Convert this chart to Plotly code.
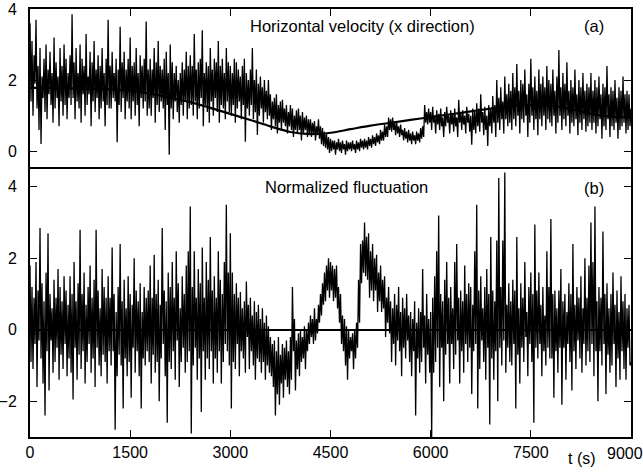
import plotly.graph_objects as go

# ---------------- data ----------------
# Each 30 s window is read as an upper and a lower excursion of the trace:
# upper value at the start of the window (t = 30k), lower value half a window later (t = 30k + 15).
dt = 30

# (a) horizontal velocity, x direction
velocity_hi = [
    3.6, 3.1, 2.7, 3.7, 2.4, 2.9, 2.1, 2.6, 3.0, 2.3, 2.8, 2.2, 3.2, 2.5, 2.1, 2.9, 2.4, 3.0, 2.6, 2.2,
    2.7, 3.85, 2.5, 2.9, 2.2, 3.0, 2.6, 2.4, 3.3, 2.1, 2.8, 2.5, 3.1, 2.3, 2.7, 2.4, 2.9, 2.2, 2.6, 3.7,
    2.4, 2.8, 2.2, 2.6, 2.3, 3.5, 2.5, 2.8, 2.3, 2.6, 3.2, 2.4, 2.5, 2.9, 2.2, 2.7, 2.4, 2.6, 3.65, 2.3,
    2.6, 2.3, 2.9, 2.5, 3.1, 2.4, 2.3, 2.6, 2.8, 2.2, 3.0, 2.5, 2.2, 2.4, 2.0, 2.2, 2.5, 2.3, 2.8, 2.4,
    2.7, 2.4, 3.3, 2.3, 2.5, 2.6, 3.4, 2.2, 2.5, 2.4, 2.9, 2.3, 2.6, 2.5, 3.1, 2.4, 2.6, 2.2, 2.9, 2.5,
    2.4, 2.2, 2.6, 2.5, 2.3, 2.1, 2.4, 2.6, 2.2, 2.0, 2.3, 2.9, 2.0, 2.3, 1.9, 2.1, 1.8, 2.0, 1.7, 2.0,
    1.6, 1.4, 1.5, 1.6, 1.3, 1.4, 1.45, 1.2, 1.3, 1.1, 1.3, 1.2, 1.0, 1.15, 1.2, 1.0, 1.1, 0.95, 1.0, 0.9,
    0.9, 0.8, 0.85, 0.7, 0.9, 0.7, 0.65, 0.55, 0.5, 0.4, 0.35, 0.3, 0.3, 0.25, 0.35, 0.25, 0.3, 0.2, 0.3, 0.25,
    0.25, 0.3, 0.2, 0.3, 0.25, 0.35, 0.3, 0.35, 0.3, 0.4, 0.35, 0.45, 0.4, 0.5, 0.45, 0.6, 0.55, 0.75, 0.7, 0.95,
    0.9, 0.95, 0.8, 0.85, 0.7, 0.75, 0.6, 0.65, 0.55, 0.6, 0.5, 0.55, 0.45, 0.55, 0.5, 0.65, 0.7, 1.3, 1.1, 1.2,
    1.1, 1.25, 1.0, 1.15, 1.05, 1.2, 0.95, 1.1, 1.25, 1.0, 1.15, 1.05, 1.2, 0.95, 1.45, 1.1, 1.15, 1.0, 1.25, 1.05,
    1.0, 1.2, 1.1, 1.35, 1.2, 1.6, 1.1, 1.25, 1.0, 1.3, 1.2, 1.55, 1.3, 2.0, 1.5, 1.8, 1.4, 2.1, 1.6, 1.9,
    1.7, 2.2, 1.8, 2.45, 1.7, 2.0, 1.9, 2.3, 1.6, 1.9, 2.6, 1.8, 2.1, 1.7, 2.3, 1.9, 2.1, 1.8, 2.4, 2.0,
    1.9, 2.3, 1.7, 2.1, 2.85, 1.8, 2.2, 1.9, 2.5, 1.7, 2.0, 1.8, 2.3, 1.6, 2.0, 1.8, 2.2, 1.7, 1.9, 1.8,
    2.2, 1.7, 2.0, 1.8, 2.1, 1.6, 1.9, 1.8, 2.4, 1.6, 1.8, 1.7, 2.0, 1.5, 1.8, 1.7, 2.1, 1.6, 1.7, 1.6,
]
velocity_lo = [
    1.4, 1.0, 1.9, 1.2, 0.6, 0.2, 1.5, 1.1, 0.9, 1.6, 1.3, 0.8, 1.2, 1.5, 0.7, 1.4, 1.0, 1.3, 0.9, 1.5,
    1.3, 1.5, 0.9, 1.4, 1.2, 0.8, 1.6, 1.0, 1.3, 1.6, 0.7, 1.4, 1.1, 1.5, 0.9, 1.2, 1.4, 0.7, 1.3, 1.2,
    1.2, 1.5, 1.4, 0.25, 1.3, 1.1, 1.5, 0.9, 1.4, 1.2, 0.9, 1.4, 1.0, 1.3, 0.7, 1.5, 1.2, 1.4, 1.0, 1.2,
    1.0, 1.5, 0.8, 1.3, 1.1, 1.4, 1.2, 0.6, 1.3, -0.1, 1.2, 0.9, 1.4, 1.1, 0.8, 1.3, 1.0, 1.4, 0.9, 1.2,
    1.3, 1.0, 1.4, 0.9, 1.2, 1.5, 0.7, 1.3, 1.1, 0.8, 1.4, 1.0, 1.5, 1.1, 0.8, 1.3, 1.2, 0.9, 1.4, 1.1,
    1.0, 1.3, 0.8, 1.2, 1.4, 0.9, 1.3, 0.27, 1.2, 1.0, 1.3, 0.9, 1.1, 0.46, 1.0, 1.2, 0.8, 1.1, 0.9, 1.0,
    0.6, 0.9, 0.7, 0.5, 0.8, 0.6, 0.8, 0.7, 0.5, 0.7, 0.6, 0.4, 0.6, 0.5, 0.6, 0.3, 0.5, 0.6, 0.4, 0.5,
    0.4, 0.5, 0.3, 0.45, 0.35, 0.2, 0.15, 0.1, 0.05, -0.05, 0.0, 0.05, -0.1, 0.05, 0.0, -0.05, 0.05, -0.1, 0.0, 0.05,
    0.0, 0.05, -0.05, 0.05, 0.0, 0.1, 0.05, 0.1, 0.05, 0.15, 0.1, 0.2, 0.15, 0.25, 0.2, 0.3, 0.3, 0.4, 0.4, 0.6,
    0.55, 0.6, 0.45, 0.5, 0.4, 0.45, 0.3, 0.35, 0.25, 0.3, 0.2, 0.3, 0.2, 0.3, 0.25, 0.35, 0.4, 0.8, 0.75, 0.8,
    0.6, 0.8, 0.5, 0.75, 0.6, 0.7, 0.4, 0.7, 0.8, 0.5, 0.75, 0.55, 0.7, 0.4, 0.8, 0.6, 0.75, 0.5, 0.8, 0.55,
    0.18, 0.6, 0.5, 0.7, 0.55, 0.8, 0.45, 0.6, 0.15, 0.7, 0.5, 0.8, 0.4, 0.8, 0.6, 0.9, 0.5, 0.9, 0.7, 0.8,
    0.6, 0.9, 0.7, 1.0, 0.5, 0.9, 0.8, 1.0, 0.4, 0.8, 1.0, 0.6, 0.9, 0.45, 0.9, 0.7, 1.0, 0.6, 0.9, 0.8,
    0.7, 1.0, 0.5, 0.8, 1.0, 0.6, 0.9, 0.7, 1.0, 0.5, 0.8, 0.7, 0.9, 0.45, 0.8, 0.6, 0.9, 0.55, 0.7, 0.8,
    0.6, 0.8, 0.5, 0.7, 0.9, 0.35, 0.7, 0.6, 0.9, 0.4, 0.7, 0.6, 0.8, 0.35, 0.6, 0.7, 0.8, 0.5, 0.6, 0.7,
]
velocity_end = 1.2  # reading at t = 9000

# (a) smooth mean curve
trend_t = [0, 300, 600, 900, 1200, 1500, 1800, 2100, 2400, 2700, 3000, 3300, 3600, 3900, 4200, 4500,
           4800, 5100, 5400, 5700, 6000, 6300, 6600, 6900, 7200, 7500, 7800, 8100, 8400, 8700, 9000]
trend_v = [1.78, 1.78, 1.77, 1.76, 1.74, 1.70, 1.62, 1.50, 1.38, 1.22, 1.05, 0.88, 0.70, 0.54, 0.48, 0.52,
           0.62, 0.72, 0.80, 0.88, 0.96, 1.04, 1.12, 1.20, 1.27, 1.30, 1.28, 1.18, 1.05, 0.97, 0.95]

# (b) normalized fluctuation
fluct_hi = [
    1.8, 1.2, 0.9, 1.9, 1.1, 2.85, 1.3, 0.8, 1.6, 2.7, 1.0, 0.6, 1.4, 0.9, 1.7, 1.2, 0.8, 1.5, 1.1, 0.7,
    1.5, 1.0, 1.9, 0.8, 1.3, 2.8, 1.0, 1.6, 0.7, 1.2, 1.8, 0.9, 1.4, 2.8, 1.1, 0.6, 1.7, 1.2, 0.9, 1.5,
    0.9, 2.3, 1.0, 0.5, 1.2, 2.4, 0.8, 1.4, 0.6, 1.5, 1.0, 0.7, 2.0, 1.1, 0.8, 1.3, 0.5, 1.2, 0.9, 1.1,
    1.8, 0.9, 2.1, 1.0, 1.4, 0.7, 2.85, 1.1, 0.8, 1.6, 1.2, 1.9, 0.9, 2.2, 1.3, 0.6, 1.5, 1.0, 1.8, 2.2,
    3.45, 1.2, 2.2, 0.9, 1.7, 1.3, 2.3, 0.9, 1.9, 1.4, 2.6, 1.1, 1.5, 0.9, 2.2, 1.4, 1.0, 1.9, 3.5, 1.6,
    2.7, 1.6, 1.0, 1.3, 0.9, 1.06, 0.6, 0.8, 1.35, 0.7, 0.9, 0.4, 0.8, 0.5, 0.7, 0.3, 0.6, 0.2, 0.4, 0.1,
    -0.2, -0.4, -0.3, -0.6, -0.2, -0.7, -0.4, -0.5, -0.3, -0.6, -0.2, 1.2, 0.3, -0.3, -0.1, 0.0, -0.2, 0.1, 0.0, 0.2,
    0.4, 0.3, 0.6, 0.3, 0.7, 1.0, 1.3, 1.6, 1.8, 2.0, 1.9, 1.8, 1.7, 1.8, 1.2, 1.0, 0.4, 0.3, 0.1, 0.0,
    -0.2, -0.1, 0.0, 0.2, 1.4, 2.4, 2.5, 3.0, 2.6, 2.7, 2.2, 2.4, 2.0, 2.1, 1.6, 1.8, 1.4, 1.5, 0.9, 1.2,
    0.8, 0.6, 1.0, 0.7, 1.2, 0.5, 0.9, 0.6, 1.0, 0.4, 0.5, 0.3, 0.8, 0.2, 0.6, 0.5, 1.7, 0.4, 1.0, 0.3,
    0.5, 0.9, 1.5, 2.2, 3.2, 1.0, 0.8, 1.4, 1.9, 0.9, 1.2, 0.6, 1.9, 2.4, 0.9, 1.1, 0.8, 1.8, 1.0, 1.3,
    1.2, 0.7, 2.2, 3.5, 1.1, 1.5, 0.6, 1.2, 1.7, 1.0, 2.6, 1.1, 0.8, 2.5, 4.25, 1.2, 2.5, 4.4, 0.7, 1.3,
    0.8, 1.4, 1.1, 2.6, 0.6, 1.3, 0.9, 1.9, 0.5, 1.2, 1.6, 1.0, 2.95, 1.1, 1.6, 0.7, 1.2, 0.4, 2.2, 1.2,
    3.1, 1.0, 1.1, 0.6, 1.1, 1.7, 0.8, 1.0, 0.5, 1.3, 1.0, 2.4, 0.7, 1.2, 0.9, 1.5, 0.6, 2.0, 0.9, 1.8,
    3.0, 1.9, 3.45, 0.8, 1.2, 0.9, 2.75, 1.0, 1.3, 0.6, 1.0, 1.6, 0.7, 1.1, 0.5, 1.5, 0.8, 1.0, 0.6, 0.7,
]
fluct_lo = [
    -0.9, -1.1, -0.4, -1.6, -0.3, -0.8, -1.5, -2.4, -0.6, -1.7, -0.3, -1.2, -0.9, -0.5, -1.4, -0.7, -1.1, -0.4, -1.3, -0.8,
    -1.2, -1.95, -0.5, -1.4, -0.7, -1.1, -0.6, -1.5, -0.9, -0.4, -1.2, -0.8, -1.6, -0.5, -1.0, -1.3, -0.7, -0.9, -1.5, -0.6,
    -1.0, -0.6, -2.8, -1.3, -0.7, -1.0, -2.2, -0.8, -1.3, -0.9, -1.9, -0.5, -1.2, -0.6, -1.3, -2.2, -0.8, -1.0, -0.6, -0.9,
    -1.5, -0.7, -1.2, -0.9, -2.0, -0.8, -0.4, -1.3, -2.6, -0.9, -1.1, -0.6, -1.4, -0.3, -1.6, -0.9, -0.5, -1.2, -0.9, -0.6,
    -2.9, -1.0, -0.5, -1.4, -0.8, -2.3, -0.6, -1.4, -0.8, -1.1, -0.6, -1.5, -0.8, -1.2, -0.6, -1.5, -0.9, -0.4, -0.6, -1.0,
    -2.2, -0.9, -1.1, -0.4, -1.3, -0.6, -0.8, -1.2, -0.2, -1.1, -0.6, -1.0, -1.4, -0.8, -0.9, -1.2, -0.9, -1.4, -1.0, -1.2,
    -1.3, -1.6, -2.4, -1.8, -2.1, -1.5, -1.9, -1.4, -1.6, -1.8, -1.4, -0.6, -1.7, -1.1, -1.3, -0.9, -0.8, -1.1, -0.6, -0.4,
    -0.2, -0.4, -0.3, -0.1, 0.2, 0.4, 0.7, 0.8, 1.1, 0.9, 1.1, 0.8, 0.9, 0.6, 0.2, -0.4, -0.6, -1.0, -1.4, -0.8,
    -0.6, -1.1, -0.8, -0.5, 0.2, 1.3, 1.6, 1.5, 1.4, 0.9, 1.1, 0.8, 1.1, 0.5, 0.8, 0.5, 0.6, -0.2, 0.2, -0.1,
    -0.9, -0.4, -1.0, -0.3, -0.6, -1.3, -0.5, -0.8, -0.3, -0.9, -1.3, -0.6, -2.4, -0.8, -1.2, -0.9, -0.5, -1.5, -0.7, -1.2,
    -3.0, -1.2, -0.9, -0.5, -1.6, -0.5, -2.0, -0.7, -0.4, -1.5, -0.4, -1.1, -0.7, -0.3, -1.5, -0.6, -1.2, -0.4, -0.9, -0.5,
    -1.8, -0.6, -0.4, -2.2, -1.1, -0.3, -0.9, -1.4, -0.5, -2.65, -0.8, -1.4, -0.6, -2.0, -0.5, -1.0, -0.3, -1.2, -0.5, -0.9,
    -1.0, -0.4, -2.2, -0.7, -1.5, -0.5, -0.9, -0.2, -1.3, -0.4, -0.9, -2.6, -0.5, -0.8, -0.4, -1.3, -0.6, -1.0, -0.5, -0.8,
    -0.8, -1.9, -0.6, -1.2, -0.5, -2.1, -0.5, -1.4, -0.4, -0.9, -1.7, -0.6, -1.1, -0.3, -0.8, -1.2, -0.4, -1.0, -0.6, -0.9,
    -0.4, -1.3, -0.6, -2.0, -0.6, -1.0, -0.4, -1.8, -0.7, -1.2, -1.0, -0.4, -1.6, -0.8, -1.4, -0.6, -1.1, -1.4, -0.5, -1.0,
]
fluct_end = -0.9  # reading at t = 9000

x_ticks = [0, 1500, 3000, 4500, 6000, 7500, 9000]
x_tick_text = ["0", "1500", "3000", "4500", "6000", "7500", "9000"]
ya_ticks = [0, 2, 4]
yb_ticks = [-2, 0, 2, 4]


def merge(hi, lo, end):
    """Put the upper and lower readings of each window in time order."""
    ts, vs = [], []
    for k in range(len(hi)):
        ts += [k * dt, k * dt + dt / 2]
        vs += [hi[k], lo[k]]
    ts.append(len(hi) * dt)
    vs.append(end)
    return ts, vs


t_vel, v_all = merge(velocity_hi, velocity_lo, velocity_end)
t_fl, f_all = merge(fluct_hi, fluct_lo, fluct_end)

# ---------------- figure ----------------
FONT = "Liberation Sans, Arial, Helvetica, sans-serif"
fig = go.Figure()
fig.add_trace(go.Scatter(x=t_vel, y=v_all, xaxis="x2", yaxis="y2", mode="lines",
                         line=dict(color="black", width=1.3)))
fig.add_trace(go.Scatter(x=trend_t, y=trend_v, xaxis="x2", yaxis="y2", mode="lines",
                         line=dict(color="black", width=2.2, shape="spline")))
fig.add_trace(go.Scatter(x=t_fl, y=f_all, xaxis="x", yaxis="y", mode="lines",
                         line=dict(color="black", width=1.3)))

ax_common = dict(showgrid=False, showline=True, linecolor="black", linewidth=2,
                 ticks="inside", ticklen=7, tickcolor="black", tickwidth=1, automargin=False,
                 tickfont=dict(family=FONT, size=16, color="black"))
split = 268 / 428

# last x label is drawn as a text nudged left (as in the source figure)
bottom_text = x_tick_text[:-1] + [""]


def label(text, x, y, size=16.5, xref="paper", xshift=0):
    return dict(text=text, x=x, y=y, xref=xref, yref="paper", xshift=xshift,
                xanchor="center", yanchor="middle", showarrow=False,
                font=dict(family=FONT, size=size, color="black"))


fig.update_layout(
    width=643, height=472,
    margin=dict(l=30, r=12, t=9, b=35),
    paper_bgcolor="white", plot_bgcolor="white",
    showlegend=False,
    xaxis=dict(range=[0, 9000], anchor="y", tickvals=x_ticks, ticktext=bottom_text, mirror=True,
               zeroline=False, **ax_common),
    xaxis2=dict(range=[0, 9000], anchor="y2", tickvals=x_ticks, side="top",
                showticklabels=False, mirror=False, zeroline=False, **ax_common),
    yaxis=dict(domain=[0, split], range=[-3, 4.5], tickvals=yb_ticks, mirror="ticks",
               ticklabelstandoff=8,
               zeroline=True, zerolinecolor="black", zerolinewidth=1.5, **ax_common),
    yaxis2=dict(domain=[split, 1], range=[-0.5, 4], tickvals=ya_ticks, mirror="ticks",
                ticklabelstandoff=8, zeroline=False, **ax_common),
    annotations=[
        label("Horizontal velocity (x direction)", 0.554, 0.960),
        label("(a)", 0.938, 0.960),
        label("Normalized fluctuation", 0.526, 0.584),
        label("(b)", 0.938, 0.582),
        label("t (s)", 0.919, -0.051, size=16),
        label(x_tick_text[-1], x_ticks[-1], -0.038, size=16, xref="x", xshift=-6),
    ],
)

fig.write_html("out.html", config={"displayModeBar": False},
               post_script="document.body.style.margin='0px';")
